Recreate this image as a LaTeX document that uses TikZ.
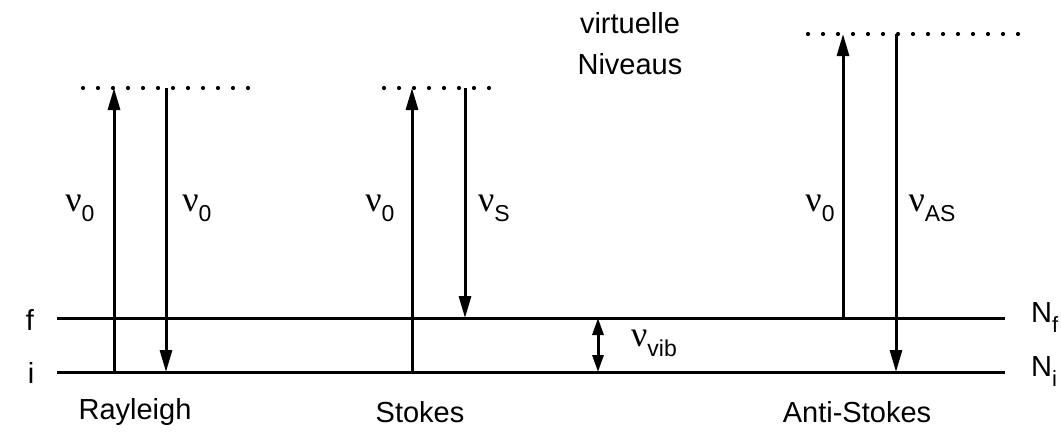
\documentclass[tikz,border=0pt]{standalone}
\usepackage{fontspec}
\setmainfont{Liberation Sans}
\newfontfamily\grfont{Liberation Serif}
\usetikzlibrary{arrows.meta}
\newcommand{\nusub}[1]{{\grfont\fontsize{36}{36}\selectfont ν}\raisebox{-10pt}{\fontsize{23}{23}\selectfont #1}}
\begin{document}
\begin{tikzpicture}[x=1pt,y=-1pt,
  lvl/.style={line width=3pt},
  trans/.style={line width=3pt,-{Triangle[length=22pt,width=12pt]}},
  virt/.style={line width=4.2pt,dash pattern=on 0pt off 15pt,line cap=round},
  lbl/.style={font=\fontsize{29}{34}\selectfont,inner sep=0pt},
  every node/.style={inner sep=0pt}]
\useasboundingbox (0,0) rectangle (1061,439);
% levels
\coordinate (fL) at (57,318); \coordinate (fR) at (1005,318);
\coordinate (iL) at (57,372); \coordinate (iR) at (1005,372);
\draw[lvl] (fL) -- (fR);
\draw[lvl] (iL) -- (iR);
% virtual levels
\coordinate (v1L) at (83,88); \coordinate (v1R) at (251,88);
\coordinate (v2L) at (384,88); \coordinate (v2R) at (501,88);
\coordinate (v3L) at (808,34); \coordinate (v3R) at (1019,34);
\draw[virt] (v1L) -- (v1R);
\draw[virt] (v2L) -- (v2R);
\draw[virt] (v3L) -- (v3R);
% Rayleigh
\coordinate (r1a) at (114,372); \coordinate (r1b) at (114,88);
\coordinate (r2a) at (166,88); \coordinate (r2b) at (166,372);
\draw[trans] (r1a) -- (r1b);
\draw[trans] (r2a) -- (r2b);
% Stokes
\coordinate (s1a) at (412,372); \coordinate (s1b) at (412,88);
\coordinate (s2a) at (465,88); \coordinate (s2b) at (465,318);
\draw[trans] (s1a) -- (s1b);
\draw[trans] (s2a) -- (s2b);
% Anti-Stokes
\coordinate (a1a) at (843,318); \coordinate (a1b) at (843,34);
\coordinate (a2a) at (896,34); \coordinate (a2b) at (896,372);
\draw[trans] (a1a) -- (a1b);
\draw[trans] (a2a) -- (a2b);
% vib
\coordinate (vba) at (598,372); \coordinate (vbb) at (598,318);
\draw[line width=3pt,{Triangle[length=17pt,width=11pt]}-{Triangle[length=17pt,width=11pt]}] (vba) -- (vbb);
% labels
\node[lbl] (lf) at (30,320) {f};
\node[lbl] (li) at (31,373) {i};
\node[lbl,anchor=west] (lNf) at (1031,318) {N\raisebox{-10pt}{\fontsize{22}{22}\selectfont f}};
\node[lbl,anchor=west] (lNi) at (1031,372) {N\raisebox{-10pt}{\fontsize{22}{22}\selectfont i}};
\node[lbl] (n1) at (80,208) {\nusub{0}};
\node[lbl] (n2) at (197,208) {\nusub{0}};
\node[lbl] (n3) at (380,208) {\nusub{0}};
\node[lbl] (n4) at (494,208) {\nusub{S}};
\node[lbl] (n5) at (820,208) {\nusub{0}};
\node[lbl] (n6) at (932,208) {\nusub{AS}};
\node[lbl] (n7) at (654,343) {\nusub{vib}};
\node[lbl] (tR) at (135,412) {Rayleigh};
\node[lbl] (tS) at (420,412) {Stokes};
\node[lbl] (tA) at (857,412) {Anti-Stokes};
\node[lbl,align=center,font=\fontsize{29}{41}\selectfont] (tV) at (630,44) {virtuelle\\Niveaus};
\end{tikzpicture}
\end{document}
